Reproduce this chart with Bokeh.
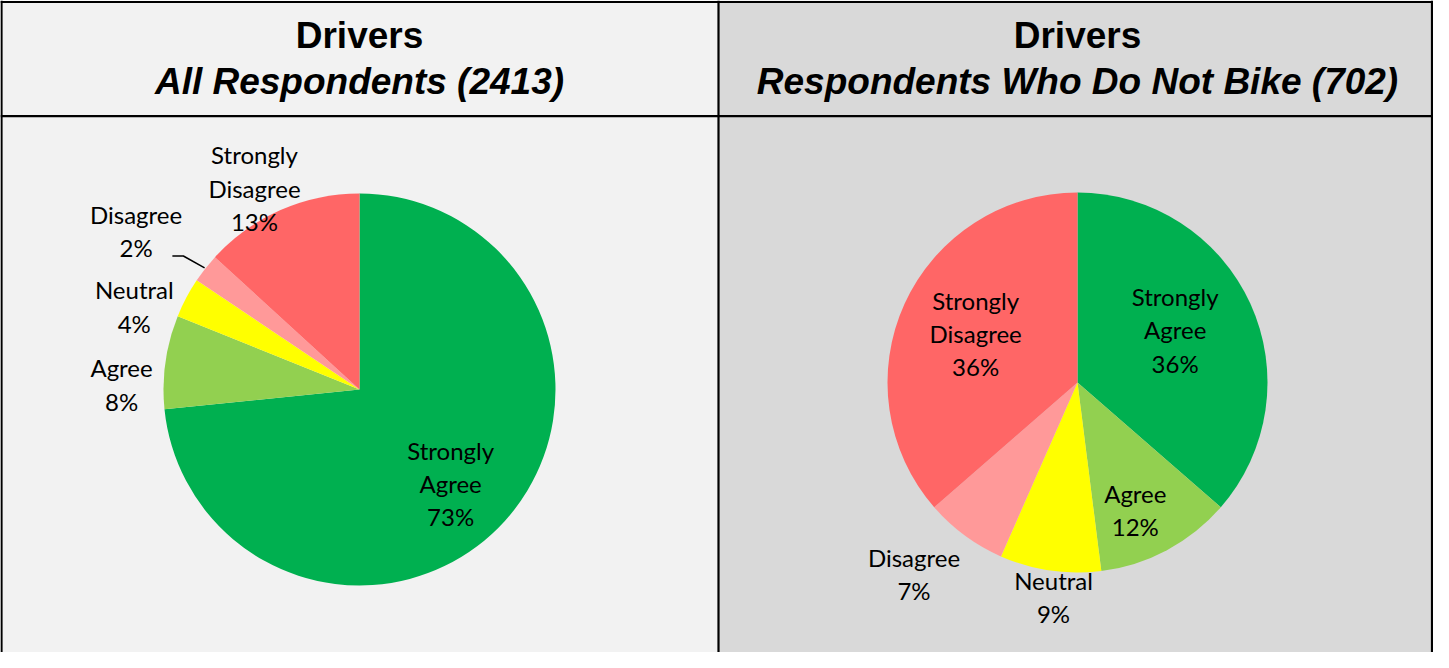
import numpy as np
from bokeh.plotting import figure
from bokeh.models import Range1d, ColumnDataSource
from bokeh.core.properties import value
from bokeh.embed import file_html
from bokeh.resources import INLINE

# ---------------- data ----------------
categories = ["Strongly Agree", "Agree", "Neutral", "Disagree", "Strongly Disagree"]
label_names = ["Strongly\nAgree", "Agree", "Neutral", "Disagree", "Strongly\nDisagree"]
colors = ["#00B050", "#92D050", "#FFFF00", "#FF9999", "#FF6666"]

all_shares = [73.4, 7.7, 3.3, 2.4, 13.2]
all_labels = ["73%", "8%", "4%", "2%", "13%"]
nobike_shares = [36.4, 11.6, 8.6, 7.0, 36.4]
nobike_labels = ["36%", "12%", "9%", "7%", "36%"]

titles = ["Drivers", "Drivers"]
subtitles = ["All Respondents (2413)", "Respondents Who Do Not Bike (702)"]

# ---------------- layout ----------------
W, H = 1433, 652
def px(X):
    return X - 8
def py(Y):
    return 660 - Y

p = figure(width=W, height=H, x_range=Range1d(0, W), y_range=Range1d(0, H),
           output_backend="svg", toolbar_location=None, min_border=0)
p.axis.visible = False
p.grid.visible = False
p.outline_line_color = None
p.background_fill_color = "white"
p.border_fill_color = "white"

split = px(726)
p.quad(left=[0, split], right=[split, W], bottom=[0, 0], top=[H, H],
       fill_color=["#F2F2F2", "#D9D9D9"], line_color=None)

# borders
p.segment(x0=[1, W - 1.5, split, 0, 0], y0=[0, 0, 0, H - 1.5, py(123.7)],
          x1=[1, W - 1.5, split, W, W], y1=[H, H, H, H - 1.5, py(123.7)],
          line_color="black", line_width=2.2)

# headers
head_x = [px(367), px(1085)]
p.text(x=head_x, y=[py(43)] * 2, text=titles, text_align="center",
       text_baseline="alphabetic", text_font=value("Liberation Sans"),
       text_font_size="37px", text_font_style="bold", text_color="black")
p.text(x=head_x, y=[py(89)] * 2, text=subtitles, text_align="center",
       text_baseline="alphabetic", text_font=value("Liberation Sans"),
       text_font_size="37px", text_font_style="bold italic", text_color="black")

# pies
pies = [
    dict(shares=all_shares, pcts=all_labels, cx=px(367), cy=py(397), r=196,
         lbl=[(131, 3.8), (238, -6.9), (240, -7.7), (274, -2.8), (227, -3.8)],
         leader=3),
    dict(shares=nobike_shares, pcts=nobike_labels, cx=px(1085), cy=py(390), r=190,
         lbl=[(111, -3.9), (140, 3.7), (216, -1.9), (252, 4.1), (113, 1.2)],
         leader=None),
]

for pie in pies:
    s = np.array(pie["shares"], dtype=float)
    frac = s / s.sum()
    ends = np.cumsum(frac)
    starts = ends - frac
    start_ang = np.pi / 2 - 2 * np.pi * starts
    end_ang = np.pi / 2 - 2 * np.pi * ends
    cx, cy, r = pie["cx"], pie["cy"], pie["r"]
    p.wedge(x=[cx] * len(s), y=[cy] * len(s), radius=r,
            start_angle=list(start_ang), end_angle=list(end_ang),
            direction="clock", fill_color=colors, line_color=None)
    mids = (starts + ends) / 2 * 360.0
    lx, ly, txt = [], [], []
    for i, (d, dt) in enumerate(pie["lbl"]):
        th = np.radians(mids[i] + dt)
        lx.append(cx + d * np.sin(th))
        ly.append(cy + d * np.cos(th))
        txt.append(label_names[i] + "\n" + pie["pcts"][i])
    src = ColumnDataSource(dict(x=lx, y=ly, text=txt))
    p.text(x="x", y="y", text="text", source=src, text_align="center",
           text_baseline="middle", text_font=value("Lato"), text_font_size="24px",
           text_line_height=1.15, text_color="black")
    if pie["leader"] is not None:
        i = pie["leader"]
        th = np.radians(mids[i])
        th2 = np.radians(mids[i] - 1.0)
        x1, y1 = cx + (r + 1) * np.sin(th), cy + (r + 1) * np.cos(th)
        x2, y2 = cx + (r + 25) * np.sin(th2), cy + (r + 25) * np.cos(th2)
        p.line(x=[x1, x2, x2 - 11], y=[y1, y2, y2], line_color="black", line_width=1.5)

open("out.html", "w").write(file_html(p, INLINE))
